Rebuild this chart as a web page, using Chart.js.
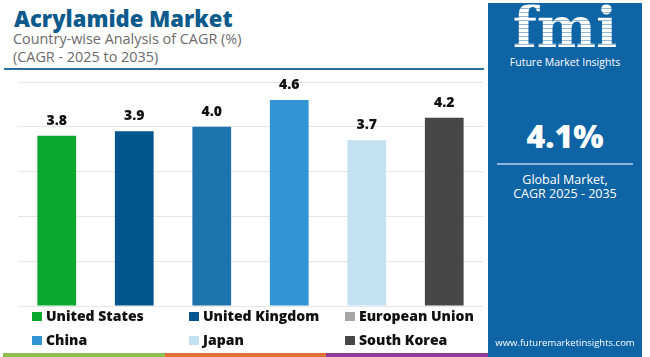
<!DOCTYPE html>
<html>
<head>
<meta charset="utf-8">
<script src="https://cdn.jsdelivr.net/npm/chart.js@4.4.1/dist/chart.umd.min.js"></script>
<style>
  html,body{margin:0;padding:0;background:#fff;}
  body{width:650px;height:357px;position:relative;overflow:hidden;font-family:"Open Sans",sans-serif;}
  #title{position:absolute;left:14px;top:3px;font-size:22px;font-weight:800;color:#0d5a8c;white-space:nowrap;}
  .sub{position:absolute;left:13px;font-size:14.4px;color:#6b6b6b;white-space:nowrap;}
  #rule{position:absolute;left:4px;top:68px;width:480px;height:2px;background:#2d6e9e;}
  #chartbox{position:absolute;left:10px;top:72px;width:473px;height:244px;}
  #legend{position:absolute;left:0;top:0;}
  .li{position:absolute;font-size:14px;font-weight:800;color:#111;white-space:nowrap;line-height:16px;}
  .li i{position:absolute;left:-14px;top:4px;width:10px;height:9px;}
  #panel{position:absolute;left:488px;top:3px;width:154px;height:354px;background:#0f64a6;color:#fff;text-align:center;}
  #logo{position:absolute;left:0;width:154px;top:-6px;font-family:"DejaVu Serif",serif;font-weight:bold;font-size:56px;line-height:60px;letter-spacing:0px;
        background:repeating-linear-gradient(#fff 0 3px, rgba(255,255,255,0.55) 3px 4px);-webkit-background-clip:text;background-clip:text;color:transparent;}
  #fmitxt{position:absolute;left:0;width:154px;top:52px;font-size:10.5px;color:#fff;}
  #big{position:absolute;left:0;width:154px;top:111px;font-size:32px;font-weight:800;}
  #pline{position:absolute;left:9px;top:160px;width:136px;height:2px;background:#8ab6de;}
  #g1{position:absolute;left:0;width:154px;top:170px;font-size:12.5px;line-height:14px;}
  #url{position:absolute;left:0;width:154px;top:333px;font-size:9.5px;}
  .stripe{position:absolute;top:353px;height:4px;}
</style>
</head>
<body>
<div id="title">Acrylamide Market</div>
<div class="sub" style="top:29px">Country-wise Analysis of CAGR (%)</div>
<div class="sub" style="top:47px">(CAGR - 2025 to 2035)</div>
<div id="rule"></div>
<div id="chartbox"><canvas id="c" width="473" height="244"></canvas></div>
<div id="legend"></div>
<div class="stripe" style="left:3px;width:162px;background:#8dc050"></div>
<div class="stripe" style="left:165px;width:161px;background:#e0703a"></div>
<div class="stripe" style="left:326px;width:162px;background:#8e3c99"></div>
<div id="panel">
  <div id="logo">fmi</div>
  <div id="fmitxt">Future Market Insights</div>
  <div id="big">4.1%</div>
  <div id="pline"></div>
  <div id="g1">Global Market,<br>CAGR 2025 - 2035</div>
  <div id="url">www.futuremarketinsights.com</div>
</div>
<script>
const categories = ["United States","United Kingdom","European Union","China","Japan","South Korea"];
const cagrValues = [3.8, 3.9, 4.0, 4.6, 3.7, 4.2];
const barColors = ["#0aa82e","#02568d","#1c73ae","#3395d6","#c3e1f3","#474747"];
const legendColors = ["#0aa82e","#02568d","#a6a6a6","#3395d6","#c3e1f3","#474747"];
const yTicks = [0,1,2,3,4,5];

// HTML legend: 3 columns x 2 rows
const legendEl = document.getElementById('legend');
const colX = [46, 203, 359];
const rowY = [308, 332];
categories.forEach((name,i)=>{
  const d = document.createElement('div');
  d.className='li';
  d.style.left = colX[i%3]+'px';
  d.style.top = rowY[Math.floor(i/3)]+'px';
  d.innerHTML = '<i style="background:'+legendColors[i]+'"></i>'+name;
  legendEl.appendChild(d);
});

const valueLabels = {
  id:'valueLabels',
  afterDatasetsDraw(chart){
    const ctx = chart.ctx;
    const meta = chart.getDatasetMeta(0);
    ctx.save();
    ctx.font = '800 14px "Open Sans"';
    ctx.fillStyle = '#111';
    ctx.textAlign='center';
    ctx.textBaseline='middle';
    meta.data.forEach((bar,i)=>{
      ctx.fillText(cagrValues[i].toFixed(1), bar.x, bar.y-15);
    });
    ctx.restore();
  }
};

new Chart(document.getElementById('c'),{
  type:'bar',
  data:{labels:categories,datasets:[{data:cagrValues,backgroundColor:barColors,borderWidth:0,categoryPercentage:1,barPercentage:0.5}]},
  options:{
    responsive:false,animation:false,
    layout:{padding:{left:8,right:0,top:10,bottom:10}},
    plugins:{legend:{display:false},tooltip:{enabled:false}},
    scales:{
      x:{grid:{display:false,drawTicks:false},border:{display:false},ticks:{display:false}},
      y:{min:0,max:5,afterBuildTicks(s){s.ticks=yTicks.map(v=>({value:v}));},
         grid:{color:'#e6e6e6',drawTicks:false,lineWidth:1},border:{display:false},ticks:{display:false}}
    }
  },
  plugins:[valueLabels]
});
</script>
</body>
</html>
